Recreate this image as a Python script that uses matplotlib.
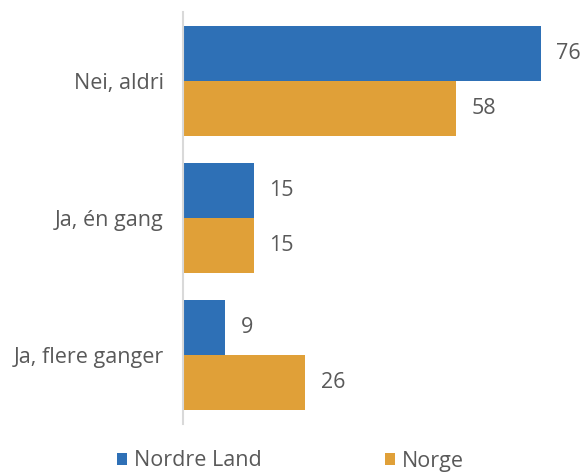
import matplotlib.pyplot as plt
import numpy as np

categories = ['Nei, aldri', 'Ja, én gang', 'Ja, flere ganger']
nordre_land = [76, 15, 9]
norge = [58, 15, 26]

blue = '#2E70B6'
orange = '#E0A038'
grey = '#595959'
fs = 15.5

plt.rcParams['font.family'] = ['Open Sans', 'DejaVu Sans']

fig = plt.figure(figsize=(5.85, 4.74), dpi=100)
ax = fig.add_axes([183 / 585, 1 - 424 / 474, 400 / 585, 412 / 474])

y = np.arange(len(categories))
h = 0.4
b1 = ax.barh(y - h / 2, nordre_land, height=h, color=blue, label='Nordre Land')
b2 = ax.barh(y + h / 2, norge, height=h, color=orange, label='Norge')

ax.bar_label(b1, padding=11, fontsize=fs, color=grey)
ax.bar_label(b2, padding=11, fontsize=fs, color=grey)

ax.set_yticks(y)
ax.set_yticklabels(categories, fontsize=fs, color=grey)
ax.tick_params(axis='y', length=0, pad=14)
ax.set_ylim(len(categories) - 0.5, -0.5)
ax.set_xlim(0, 85)
ax.set_xticks([])

for s in ['top', 'right', 'bottom']:
    ax.spines[s].set_visible(False)
ax.spines['left'].set_color('#D9D9D9')
ax.spines['left'].set_linewidth(1.5)

# one legend entry per series, placed separately along the bottom
for handle, x0 in [(b1, 117), (b2, 385)]:
    fig.legend(handles=[handle], loc='center left',
               bbox_to_anchor=(x0 / 585, 1 - 461 / 474),
               frameon=False, fontsize=fs, labelcolor=grey,
               borderpad=0, borderaxespad=0,
               handlelength=0.47, handleheight=0.47, handletextpad=0.33)

fig.savefig('out.png', dpi=100)
